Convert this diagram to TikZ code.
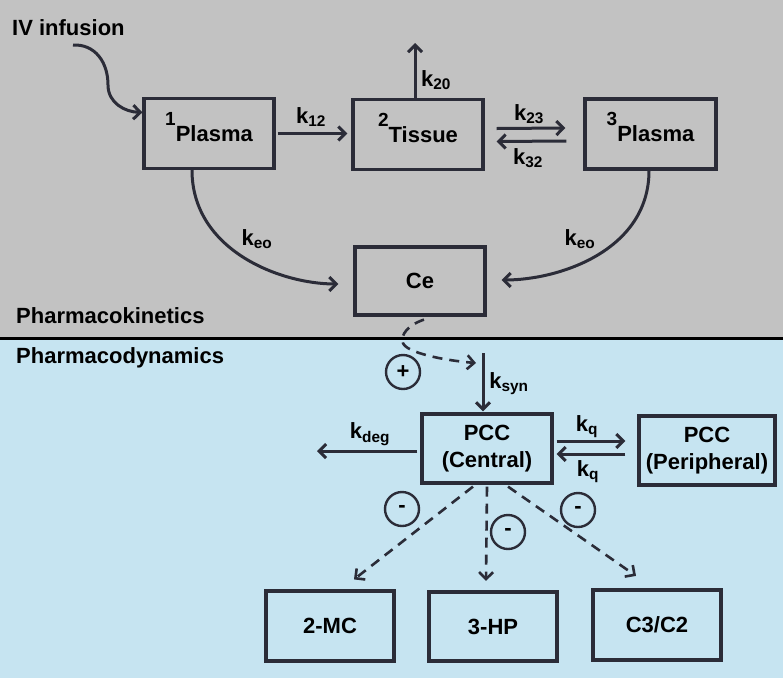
\documentclass[tikz,border=0pt]{standalone}
\usepackage{fontspec}
\setmainfont{Liberation Sans}
\usetikzlibrary{arrows.meta,calc}
\definecolor{ink}{HTML}{2B2C38}
\definecolor{pkgray}{HTML}{C2C2C2}
\definecolor{pdblue}{HTML}{C6E4F1}
\newcommand{\kx}[1]{k\textsubscript{#1}}
\newcommand{\pre}[1]{\raisebox{16pt}{\fontsize{19}{19}\selectfont #1}}
\begin{document}
\begin{tikzpicture}[x=1pt,y=-1pt,
  every node/.style={font=\fontsize{22}{27}\selectfont\bfseries, text=black},
  compbox/.style={draw=ink, line width=3.2pt, minimum width=130pt, minimum height=70pt, inner sep=0pt, text height=15.7pt, text depth=0pt},
  twobox/.style={draw=ink, line width=3.2pt, minimum height=70pt, inner sep=0pt, align=center},
  arr/.style={draw=ink, line width=3pt, -{Straight Barb[length=7pt,width=14pt]}},
  darr/.style={arr, line width=2.6pt, dash pattern=on 10pt off 7pt},
  sign/.style={circle, draw=ink, line width=2.4pt, minimum size=34pt, inner sep=0pt},
  lbl/.style={inner sep=0pt}]
\useasboundingbox (0,0) rectangle (784,678);
\fill[pkgray] (0,0) rectangle (783,338);
\fill[pdblue] (0,338) rectangle (783,678);
\draw[black, line width=3pt] (0,338) -- (783,338);

% texts
\node[anchor=base west, inner sep=0pt] (iv) at (12,35) {IV infusion};
\node[anchor=base west, inner sep=0pt] (pk) at (16,323) {Pharmacokinetics};
\node[anchor=base west, inner sep=0pt] (pd) at (16,363) {Pharmacodynamics};

% compartments
\node[compbox] (p1) at (209,133.5) {\pre{1}Plasma};
\node[compbox] (p2) at (418,134.5) {\pre{2}Tissue};
\node[compbox, minimum width=131pt] (p3) at (650.5,134) {\pre{3}Plasma};
\node[compbox, minimum height=68pt] (ce) at (420,281) {Ce};
\node[twobox, minimum width=130pt, minimum height=69pt] (pc) at (487,448.5) {PCC\\(Central)};
\node[twobox, minimum width=136pt, minimum height=69pt] (pp) at (707,450.5) {PCC\\(Peripheral)};
\node[compbox, minimum width=128pt] (m2) at (330,626) {2-MC};
\node[compbox, minimum width=128pt, minimum height=69pt] (h3) at (493,626.5) {3-HP};
\node[compbox, minimum width=128pt] (c3) at (657,625) {C3/C2};

% IV infusion
\coordinate (ivs) at (73,45);
\coordinate (ive) at ($(p1.north west)+(0,15.5)$);
\draw[arr] (ivs) .. controls (95,44) and (108,62) .. (108,85)
  .. controls (108,103) and (125,112) .. (ive);

% k12
\draw[arr, shorten <=2pt, shorten >=4pt] (p1.east) -- (p1.east -| p2.west);
\node[lbl] (lk12) at (311,117) {\kx{12}};
% k20
\coordinate (k20e) at (415,43);
\draw[arr] (p2.north -| k20e) -- (k20e);
\node[lbl] (lk20) at (436,80) {\kx{20}};
% k23 / k32
\draw[arr] ($(p2.east)+(12,-6)$) -- ($(p3.west)+(-18,-6)$);
\draw[arr] ($(p3.west)+(-17,7)$) -- ($(p2.east)+(12,7)$);
\node[lbl] (lk23) at (529,114) {\kx{23}};
\node[lbl] (lk32) at (528,158) {\kx{32}};

% keo
\coordinate (ke1) at ($(ce.west)+(-15,3)$);
\coordinate (ke2) at ($(ce.east)+(15,-1)$);
\draw[arr] (p1.south -| 192,0) .. controls (192,250) and (280,284) .. (ke1);
\draw[arr] (p3.south -| 649,0) .. controls (649,250) and (560,280) .. (ke2);
\node[lbl] (lkeo1) at (257,239) {\kx{eo}};
\node[lbl] (lkeo2) at (580,239) {\kx{eo}};

% Ce -> ksyn (stimulation)
\coordinate (stim) at (476,363);
\draw[darr] ($(ce.south)+(4,3)$) .. controls (408,325) and (400,335) .. (403,343)
  .. controls (406,352) and (440,360) .. (stim);
\node[sign] (plus) at (403,372) {+};

% ksyn
\coordinate (ks) at (483,353);
\draw[arr, shorten >=1pt] (ks) -- (ks |- pc.north);
\node[lbl] (lksyn) at (509,384) {\kx{syn}};

% kdeg
\coordinate (kd) at (317,451);
\draw[arr, shorten <=3pt] (pc.west |- kd) -- (kd);
\node[lbl] (lkdeg) at (370,434) {\kx{deg}};

% kq
\draw[arr] ($(pc.east)+(3,-7.5)$) -- ($(pp.west)+(-12,-9.5)$);
\draw[arr] ($(pp.west)+(-12,3.5)$) -- ($(pc.east)+(3,5.5)$);
\node[lbl] (lkq1) at (587,427) {\kx{q}};
\node[lbl] (lkq2) at (588,472) {\kx{q}};

% inhibition
\draw[darr] ($(pc.south)+(-14,2)$) -- ($(m2.north)+(24,-10)$);
\draw[darr] ($(pc.south)+(0,2)$) -- ($(h3.north)+(-7,-9.5)$);
\draw[darr] ($(pc.south)+(21,2)$) -- ($(c3.north)+(-21,-12.5)$);
\node[sign] (mi1) at (402,509) {-};
\node[sign] (mi2) at (508,532) {-};
\node[sign] (mi3) at (578,510) {-};
\end{tikzpicture}
\end{document}
